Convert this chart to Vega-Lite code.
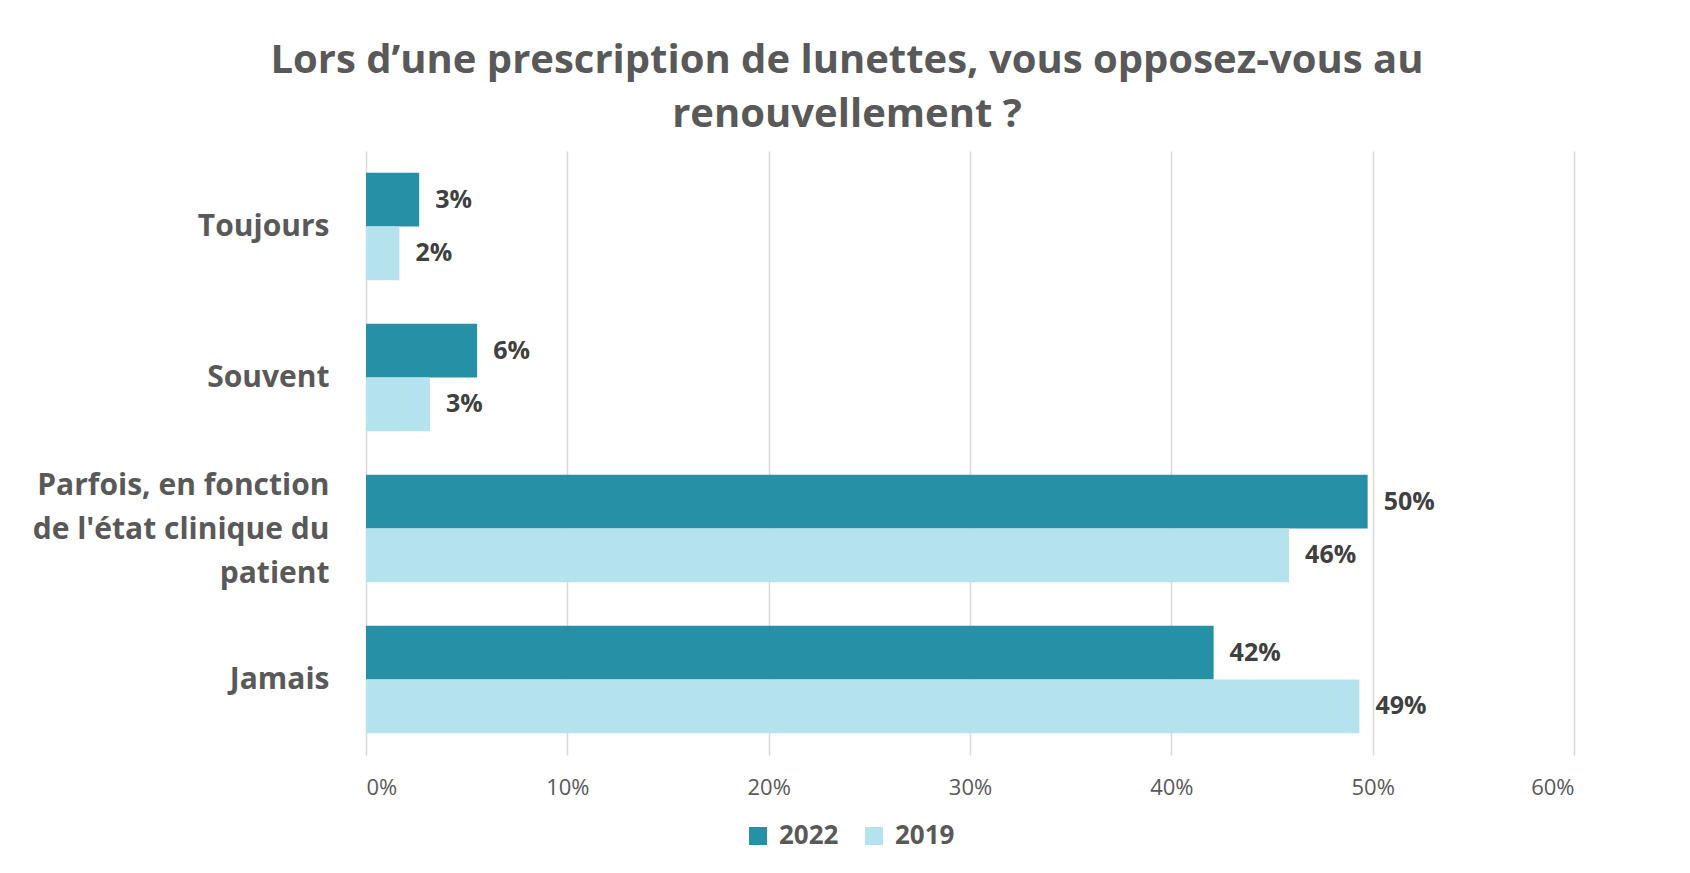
{
  "$schema": "https://vega.github.io/schema/vega-lite/v6.json",
  "width": 1208,
  "height": 604,
  "autosize": {"type": "none"},
  "padding": {"left": 366, "top": 151, "right": 116, "bottom": 118},
  "background": "white",
  "title": {
    "text": ["Lors d’une prescription de lunettes, vous opposez-vous au", "renouvellement ?"],
    "font": "Open Sans",
    "fontSize": 40,
    "fontWeight": "bold",
    "color": "#595959",
    "anchor": "middle",
    "dx": -123,
    "lineHeight": 54,
    "offset": 16
  },
  "data": {
    "values": [
      {"reponse": "Toujours", "annee": "2022", "valeur": 0.0264},
      {"reponse": "Toujours", "annee": "2019", "valeur": 0.0166},
      {"reponse": "Souvent", "annee": "2022", "valeur": 0.0552},
      {"reponse": "Souvent", "annee": "2019", "valeur": 0.0318},
      {"reponse": "Parfois, en fonction de l'état clinique du patient", "annee": "2022", "valeur": 0.4975},
      {"reponse": "Parfois, en fonction de l'état clinique du patient", "annee": "2019", "valeur": 0.4585},
      {"reponse": "Jamais", "annee": "2022", "valeur": 0.421},
      {"reponse": "Jamais", "annee": "2019", "valeur": 0.4934}
    ]
  },
  "encoding": {
    "y": {
      "field": "reponse",
      "type": "nominal",
      "sort": null,
      "title": null,
      "scale": {"paddingInner": 0.288, "paddingOuter": 0.144},
      "axis": {
        "domain": false,
        "ticks": false,
        "grid": false,
        "labelFont": "Open Sans",
        "labelFontSize": 30,
        "labelFontWeight": "bold",
        "labelColor": "#595959",
        "labelPadding": 37,
        "labelLineHeight": 44,
        "labelLimit": 400,
        "labelOffset": {"condition": {"test": "datum.value == \"Parfois, en fonction de l'état clinique du patient\"", "value": -43}, "value": 0},
        "labelExpr": "datum.value == \"Parfois, en fonction de l'état clinique du patient\" ? ['Parfois, en fonction', \"de l'état clinique du\", 'patient'] : datum.label"
      }
    },
    "yOffset": {
      "field": "annee",
      "type": "nominal",
      "sort": ["2022", "2019"],
      "scale": {"paddingInner": 0, "paddingOuter": 0}
    },
    "x": {
      "field": "valeur",
      "type": "quantitative",
      "title": null,
      "scale": {"domain": [0, 0.6], "nice": false},
      "axis": {
        "values": [0, 0.1, 0.2, 0.3, 0.4, 0.5, 0.6],
        "format": ".0%",
        "domain": false,
        "ticks": false,
        "grid": true,
        "gridColor": "#D9D9D9",
        "gridWidth": 1.5,
        "labelFont": "Open Sans",
        "labelFontSize": 22,
        "labelColor": "#595959",
        "labelPadding": 22
      }
    }
  },
  "layer": [
    {
      "mark": {"type": "bar"},
      "encoding": {
        "color": {
          "field": "annee",
          "type": "nominal",
          "sort": ["2022", "2019"],
          "scale": {"domain": ["2022", "2019"], "range": ["#2691A6", "#B4E3EE"]},
          "legend": {
            "title": null,
            "orient": "none",
            "direction": "horizontal",
            "legendX": 379,
            "legendY": 672,
            "symbolType": "square",
            "symbolSize": 324,
            "symbolOpacity": 1,
            "symbolStrokeWidth": 0,
            "labelFont": "Open Sans",
            "labelFontSize": 26,
            "labelFontWeight": "bold",
            "labelColor": "#595959",
            "columnPadding": 22,
            "labelOffset": 8
          }
        }
      }
    },
    {
      "mark": {
        "type": "text",
        "align": "left",
        "baseline": "middle",
        "dx": 16,
        "font": "Open Sans",
        "fontSize": 25,
        "fontWeight": "bold",
        "color": "#404040"
      },
      "encoding": {
        "text": {"field": "valeur", "type": "quantitative", "format": ".0%"}
      }
    }
  ],
  "config": {"view": {"stroke": null}}
}
